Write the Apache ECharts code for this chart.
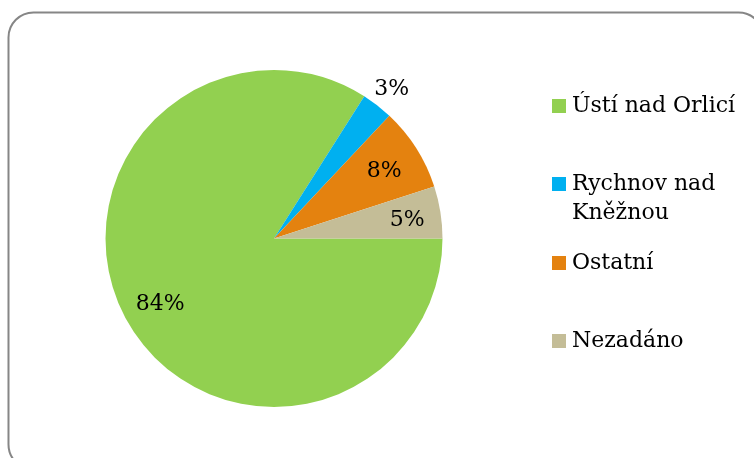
<!DOCTYPE html>
<html>
<head>
<meta charset="utf-8">
<script src="https://cdn.jsdelivr.net/npm/echarts@6/dist/echarts.min.js"></script>
<style>
html,body{margin:0;padding:0;background:#fff;}
#chart{width:754px;height:458px;}
</style>
</head>
<body>
<div id="chart"></div>
<script>
// ---- data ----
const categories = ['Ústí nad Orlicí', 'Rychnov nad Kněžnou', 'Ostatní', 'Nezadáno'];
const values = [84, 3, 8, 5];
const legendLabels = ['Ústí nad Orlicí', '\nRychnov nad\nKněžnou', 'Ostatní', 'Nezadáno'];

// ---- style ----
const colors = ['#92D050', '#00B0F0', '#E4820F', '#C4BD97'];
const labelDist = [0.77, 1.14, 0.775, 0.80]; // label distance as fraction of radius
const legendIconCenters = [106, 184, 263, 341];
const FONT = 'DejaVu Serif';
const FS = 22;
const LH = 29;
const CX = 274, CY = 238.5, R = 168.5;
const LABEL_SHIFT_Y = 3;

const chart = echarts.init(document.getElementById('chart'), null, {renderer: 'canvas'});

const legends = categories.map((c, i) => {
  const lines = legendLabels[i].split('\n').length;
  return {
    data: [c],
    orient: 'vertical',
    left: 552,
    top: legendIconCenters[i] - (lines * LH) / 2,
    padding: 0,
    itemWidth: 14,
    itemHeight: 14,
    itemGap: 0,
    icon: 'rect',
    selectedMode: false,
    formatter: () => legendLabels[i],
    textStyle: {fontFamily: FONT, fontSize: FS, lineHeight: LH, color: '#000', padding: [0, 0, 0, 1]}
  };
});

chart.setOption({
  backgroundColor: '#fff',
  animation: false,
  color: colors,
  graphic: [{
    type: 'rect',
    shape: {x: 8.5, y: 12.5, width: 755, height: 457, r: 25},
    style: {fill: 'none', stroke: '#868686', lineWidth: 2},
    silent: true,
    z: 0
  }],
  legend: legends,
  series: [{
    type: 'pie',
    center: [CX, CY],
    radius: [0, R],
    startAngle: 0,
    clockwise: true,
    avoidLabelOverlap: false,
    label: {
      show: true,
      position: 'inside',
      formatter: p => p.value + '%',
      fontFamily: FONT,
      fontSize: FS,
      color: '#000'
    },
    labelLine: {show: false},
    labelLayout: function (params) {
      const r = params.labelRect;
      const lx = r.x + r.width / 2 - CX;
      const ly = r.y + r.height / 2 - CY;
      const d = Math.sqrt(lx * lx + ly * ly) || 1;
      const target = labelDist[params.dataIndex] * R;
      const k = target / d - 1;
      return {dx: lx * k, dy: ly * k + LABEL_SHIFT_Y};
    },
    itemStyle: {borderWidth: 0},
    emphasis: {disabled: true},
    data: categories.map((c, i) => ({name: c, value: values[i]}))
  }]
});
</script>
</body>
</html>
